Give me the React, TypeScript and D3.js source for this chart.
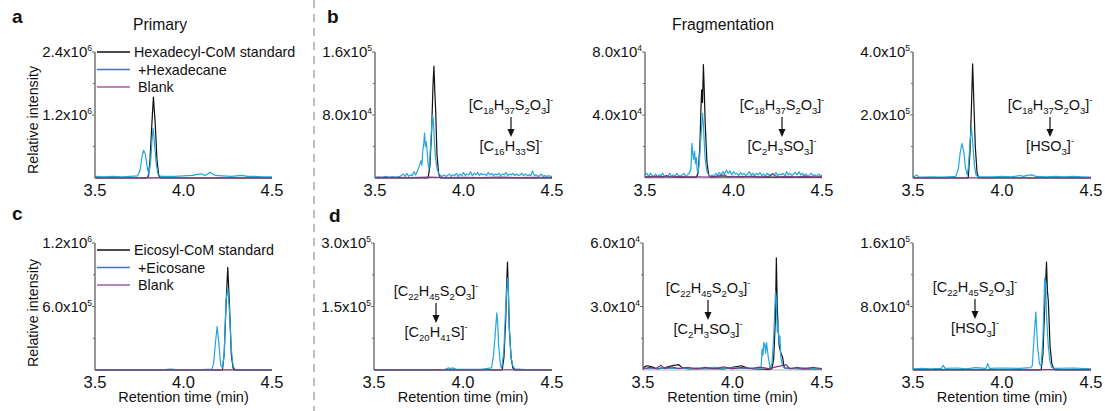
import React from "react";
import * as d3 from "d3";

type Pt = [number, number];
type Seg = [string, "n" | "sub" | "sup"];

// ---------- X axis ----------
const xTickValues = [3.5, 4.0, 4.5];
const xTickLabels = ["3.5", "4.0", "4.5"];

// ---------- Y ticks (mantissa, exponent) ----------
const aTicks: [number, string, string][] = [[1.2e6, "1.2", "6"], [2.4e6, "2.4", "6"]];
const b1Ticks: [number, string, string][] = [[8e4, "8.0", "4"], [1.6e5, "1.6", "5"]];
const b2Ticks: [number, string, string][] = [[4e4, "4.0", "4"], [8e4, "8.0", "4"]];
const b3Ticks: [number, string, string][] = [[2e5, "2.0", "5"], [4e5, "4.0", "5"]];
const cTicks: [number, string, string][] = [[6e5, "6.0", "5"], [1.2e6, "1.2", "6"]];
const d1Ticks: [number, string, string][] = [[1.5e5, "1.5", "5"], [3e5, "3.0", "5"]];
const d2Ticks: [number, string, string][] = [[3e4, "3.0", "4"], [6e4, "6.0", "4"]];
const d3Ticks: [number, string, string][] = [[8e4, "8.0", "4"], [1.6e5, "1.6", "5"]];

// ---------- Legends ----------
const legendA = ["Hexadecyl-CoM standard", "+Hexadecane", "Blank"];
const legendC = ["Eicosyl-CoM standard", "+Eicosane", "Blank"];

// ---------- Formulas ----------
const fC18: Seg[] = [["[C", "n"], ["18", "sub"], ["H", "n"], ["37", "sub"], ["S", "n"], ["2", "sub"], ["O", "n"], ["3", "sub"], ["]", "n"], ["-", "sup"]];
const fC22: Seg[] = [["[C", "n"], ["22", "sub"], ["H", "n"], ["45", "sub"], ["S", "n"], ["2", "sub"], ["O", "n"], ["3", "sub"], ["]", "n"], ["-", "sup"]];
const fC16S: Seg[] = [["[C", "n"], ["16", "sub"], ["H", "n"], ["33", "sub"], ["S]", "n"], ["-", "sup"]];
const fC20S: Seg[] = [["[C", "n"], ["20", "sub"], ["H", "n"], ["41", "sub"], ["S]", "n"], ["-", "sup"]];
const fC2H3: Seg[] = [["[C", "n"], ["2", "sub"], ["H", "n"], ["3", "sub"], ["SO", "n"], ["3", "sub"], ["]", "n"], ["-", "sup"]];
const fHSO3: Seg[] = [["[HSO", "n"], ["3", "sub"], ["]", "n"], ["-", "sup"]];

// ---------- Data: panel a (x1e6) ----------
const aBlack: Pt[] = [[3.5, 0], [3.79, 0], [3.8, 0.02], [3.81, 0.3], [3.82, 0.95], [3.83, 1.54], [3.84, 1.05], [3.85, 0.35], [3.86, 0.05], [3.87, 0], [4.5, 0]];
const aBlue: Pt[] = [[3.5, 0.03], [3.55, 0.02], [3.6, 0.03], [3.65, 0.02], [3.7, 0.03], [3.74, 0.04], [3.755, 0.15], [3.765, 0.4], [3.775, 0.53], [3.785, 0.45], [3.795, 0.2], [3.805, 0.06], [3.815, 0.35], [3.822, 0.72], [3.828, 0.95], [3.835, 0.7], [3.845, 0.3], [3.855, 0.08], [3.87, 0.03], [3.95, 0.03], [4.0, 0.04], [4.05, 0.05], [4.08, 0.07], [4.1, 0.08], [4.12, 0.05], [4.14, 0.08], [4.15, 0.11], [4.16, 0.08], [4.18, 0.05], [4.22, 0.04], [4.27, 0.03], [4.3, 0.04], [4.33, 0.05], [4.36, 0.03], [4.4, 0.03], [4.45, 0.02], [4.5, 0.02]];
const aBlank: Pt[] = [[3.5, 0.003], [3.8, 0.003], [4.1, 0.004], [4.5, 0.003]];

// ---------- panel b1 (x1e4) ----------
const b1Black: Pt[] = [[3.5, 0], [3.8, 0], [3.81, 1.5], [3.82, 6], [3.828, 12], [3.833, 14.2], [3.838, 11], [3.843, 8.5], [3.85, 3], [3.86, 0.5], [3.87, 0], [4.5, 0]];
const b1Blue: Pt[] = [[3.5, 0.1], [3.52, 0.15], [3.54, 0.1], [3.56, 0.2], [3.58, 0.1], [3.6, 0.15], [3.62, 0.1], [3.64, 0.2], [3.66, 0.5], [3.67, 0.2], [3.68, 0.6], [3.69, 0.2], [3.7, 0.4], [3.71, 0.3], [3.72, 0.8], [3.73, 0.4], [3.74, 0.9], [3.75, 1.5], [3.76, 2.2], [3.765, 1.6], [3.77, 3.5], [3.775, 4.2], [3.78, 5.7], [3.785, 4.0], [3.79, 4.6], [3.795, 3.2], [3.8, 1.8], [3.805, 1.2], [3.81, 2.5], [3.815, 4.5], [3.82, 6.5], [3.825, 8.0], [3.83, 7.2], [3.835, 5.0], [3.84, 3.0], [3.85, 1.2], [3.86, 0.6], [3.87, 0.3], [3.88, 0.2], [3.89, 0.4], [3.9, 0.2], [3.91, 0.3], [3.92, 0.5], [3.93, 0.2], [3.94, 0.4], [3.95, 0.3], [3.96, 0.6], [3.97, 0.2], [3.98, 0.5], [3.99, 0.3], [4.0, 0.7], [4.01, 0.3], [4.02, 0.5], [4.03, 0.4], [4.04, 0.8], [4.05, 0.3], [4.06, 0.6], [4.07, 0.4], [4.08, 0.7], [4.09, 0.3], [4.1, 0.6], [4.11, 0.4], [4.12, 0.5], [4.13, 0.3], [4.14, 0.7], [4.15, 0.4], [4.16, 0.6], [4.17, 0.3], [4.18, 0.5], [4.19, 0.4], [4.2, 0.6], [4.21, 0.3], [4.22, 0.5], [4.23, 0.4], [4.24, 0.7], [4.25, 0.3], [4.26, 0.5], [4.27, 0.4], [4.28, 0.6], [4.29, 0.3], [4.3, 0.5], [4.31, 0.3], [4.32, 0.4], [4.33, 0.6], [4.34, 0.3], [4.35, 0.5], [4.36, 0.3], [4.37, 0.4], [4.38, 0.3], [4.39, 0.9], [4.4, 0.3], [4.41, 0.4], [4.42, 0.2], [4.43, 0.3], [4.44, 0.5], [4.45, 0.2], [4.46, 0.3], [4.47, 0.2], [4.48, 0.3], [4.49, 0.2], [4.5, 0.2]];
const b1Blank: Pt[] = [[3.5, 0.05], [3.6, 0.08], [3.7, 0.05], [3.8, 0.1], [3.9, 0.05], [4.0, 0.08], [4.1, 0.05], [4.2, 0.1], [4.3, 0.05], [4.4, 0.08], [4.5, 0.05]];

// ---------- panel b2 (x1e4) ----------
const b2Black: Pt[] = [[3.5, 0.05], [3.6, 0.08], [3.7, 0.05], [3.79, 0.05], [3.8, 0.3], [3.81, 2], [3.815, 4], [3.82, 5.6], [3.825, 4.8], [3.83, 7.2], [3.835, 5.5], [3.84, 3.5], [3.85, 1], [3.86, 0.2], [3.87, 0.05], [4.0, 0.08], [4.2, 0.05], [4.5, 0.06]];
const b2Blue: Pt[] = [[3.5, 0.2], [3.51, 0.3], [3.52, 0.1], [3.53, 0.3], [3.54, 0.15], [3.55, 0.1], [3.56, 0.25], [3.57, 0.1], [3.58, 0.2], [3.59, 0.15], [3.6, 0.3], [3.61, 0.1], [3.62, 0.15], [3.63, 0.1], [3.64, 0.3], [3.65, 0.1], [3.66, 0.2], [3.67, 0.1], [3.68, 0.3], [3.69, 0.15], [3.7, 0.1], [3.71, 0.2], [3.72, 0.3], [3.73, 0.1], [3.74, 0.2], [3.75, 0.3], [3.76, 0.6], [3.765, 2.2], [3.77, 1.6], [3.775, 1.2], [3.78, 1.7], [3.785, 0.9], [3.79, 1.3], [3.795, 0.5], [3.8, 0.3], [3.805, 0.8], [3.81, 1.5], [3.815, 2.5], [3.82, 3.2], [3.825, 4.1], [3.83, 3.4], [3.835, 2.2], [3.84, 1.2], [3.85, 0.4], [3.86, 0.2], [3.87, 0.1], [3.88, 0.2], [3.89, 0.1], [3.9, 0.3], [3.91, 0.15], [3.92, 0.35], [3.93, 0.2], [3.94, 0.4], [3.95, 0.25], [3.96, 0.5], [3.97, 0.3], [3.98, 0.45], [3.99, 0.2], [4.0, 0.4], [4.01, 0.25], [4.02, 0.3], [4.03, 0.15], [4.04, 0.35], [4.05, 0.2], [4.06, 0.3], [4.07, 0.15], [4.08, 0.25], [4.09, 0.4], [4.1, 0.2], [4.11, 0.3], [4.12, 0.15], [4.13, 0.3], [4.14, 0.2], [4.15, 0.35], [4.16, 0.15], [4.17, 0.25], [4.18, 0.1], [4.19, 0.3], [4.2, 0.2], [4.21, 0.15], [4.22, 0.3], [4.23, 0.2], [4.24, 0.35], [4.25, 0.15], [4.26, 0.25], [4.27, 0.2], [4.28, 0.3], [4.29, 0.15], [4.3, 0.4], [4.31, 0.2], [4.32, 0.3], [4.33, 0.15], [4.34, 0.25], [4.35, 0.35], [4.36, 0.2], [4.37, 0.4], [4.38, 0.2], [4.39, 0.3], [4.4, 0.15], [4.41, 0.25], [4.42, 0.1], [4.43, 0.2], [4.44, 0.3], [4.45, 0.15], [4.46, 0.2], [4.47, 0.1], [4.48, 0.25], [4.49, 0.15], [4.5, 0.2]];
const b2Blank: Pt[] = [[3.5, 0.05], [3.55, 0.1], [3.6, 0.05], [3.62, 0.15], [3.65, 0.05], [3.7, 0.1], [3.75, 0.05], [3.8, 0.08], [3.85, 0.05], [3.9, 0.1], [3.95, 0.2], [3.97, 0.05], [4.0, 0.1], [4.05, 0.05], [4.1, 0.12], [4.15, 0.05], [4.2, 0.1], [4.22, 0.25], [4.25, 0.05], [4.3, 0.1], [4.35, 0.05], [4.4, 0.12], [4.45, 0.05], [4.5, 0.08]];

// ---------- panel b3 (x1e5) ----------
const b3Black: Pt[] = [[3.5, 0], [3.81, 0], [3.82, 0.8], [3.828, 2.2], [3.835, 3.62], [3.842, 2.4], [3.85, 1.0], [3.86, 0.15], [3.87, 0], [4.5, 0]];
const b3Blue: Pt[] = [[3.5, 0.03], [3.51, 0.05], [3.52, 0.1], [3.53, 0.04], [3.56, 0.03], [3.6, 0.04], [3.65, 0.03], [3.7, 0.04], [3.74, 0.05], [3.755, 0.3], [3.765, 0.8], [3.775, 1.1], [3.785, 0.85], [3.795, 0.3], [3.805, 0.1], [3.812, 0.4], [3.82, 1.1], [3.828, 1.62], [3.836, 1.1], [3.845, 0.4], [3.855, 0.08], [3.87, 0.04], [3.95, 0.04], [4.0, 0.05], [4.05, 0.04], [4.08, 0.06], [4.1, 0.08], [4.12, 0.05], [4.15, 0.09], [4.17, 0.1], [4.19, 0.05], [4.25, 0.04], [4.3, 0.05], [4.35, 0.04], [4.4, 0.05], [4.45, 0.04], [4.5, 0.03]];
const b3Blank: Pt[] = [[3.5, 0.005], [4.0, 0.008], [4.5, 0.005]];

// ---------- panel c (x1e5) ----------
const cBlack: Pt[] = [[3.5, 0], [4.22, 0], [4.23, 1.5], [4.24, 6], [4.25, 9.7], [4.26, 6], [4.27, 1.5], [4.28, 0.2], [4.29, 0], [4.5, 0]];
const cBlue: Pt[] = [[3.5, 0.03], [3.7, 0.03], [3.9, 0.04], [3.92, 0.08], [3.95, 0.05], [4.1, 0.03], [4.16, 0.08], [4.17, 0.6], [4.18, 2.5], [4.19, 4.1], [4.2, 2.5], [4.21, 0.5], [4.22, 0.2], [4.23, 1.5], [4.24, 6.5], [4.25, 7.75], [4.26, 5.5], [4.27, 2], [4.28, 0.4], [4.29, 0.1], [4.3, 0.04], [4.4, 0.03], [4.5, 0.03]];
const cBlank: Pt[] = [[3.5, 0.01], [4.0, 0.01], [4.5, 0.01]];

// ---------- panel d1 (x1e4) ----------
const d1Black: Pt[] = [[3.5, 0], [4.22, 0], [4.23, 3], [4.24, 12], [4.245, 20], [4.25, 25.5], [4.255, 18], [4.26, 10], [4.27, 3], [4.28, 0.5], [4.29, 0], [4.5, 0]];
const d1Blue: Pt[] = [[3.5, 0.1], [3.7, 0.1], [3.9, 0.15], [3.92, 0.5], [3.93, 0.3], [3.94, 0.5], [3.96, 0.2], [4.1, 0.15], [4.16, 0.5], [4.17, 3], [4.18, 8], [4.19, 13.5], [4.195, 11], [4.2, 6], [4.21, 1.5], [4.215, 0.5], [4.22, 1], [4.23, 5], [4.24, 15], [4.25, 21.7], [4.255, 19], [4.26, 10], [4.27, 3], [4.28, 1], [4.29, 0.3], [4.35, 0.1], [4.5, 0.1]];
const d1Blank: Pt[] = [[3.5, 0.05], [4.0, 0.06], [4.5, 0.05]];

// ---------- panel d2 (x1e3) ----------
const d2Black: Pt[] = [[3.5, 1], [3.52, 2], [3.55, 1.5], [3.58, 0.5], [3.62, 1], [3.66, 2], [3.7, 2.5], [3.72, 1], [3.76, 0.5], [3.85, 0.8], [3.95, 0.5], [4.05, 2], [4.08, 1], [4.12, 0.5], [4.2, 0.3], [4.22, 0.5], [4.23, 5], [4.24, 25], [4.245, 53], [4.25, 30], [4.255, 20], [4.26, 12], [4.27, 8], [4.28, 6], [4.285, 3], [4.29, 1], [4.32, 0.8], [4.4, 0.5], [4.5, 0.5]];
const d2Blue: Pt[] = [[3.5, 0.8], [3.55, 0.6], [3.6, 1], [3.65, 0.7], [3.7, 0.9], [3.75, 0.6], [3.8, 1], [3.85, 0.7], [3.9, 1.2], [3.95, 0.8], [4.0, 1], [4.05, 0.7], [4.1, 0.9], [4.15, 0.8], [4.16, 1], [4.165, 10], [4.17, 7], [4.175, 13], [4.18, 12], [4.185, 8], [4.19, 13], [4.2, 6], [4.21, 1], [4.22, 3], [4.23, 15], [4.24, 37], [4.245, 33], [4.25, 18], [4.255, 22], [4.26, 12], [4.265, 16], [4.27, 6], [4.28, 2], [4.29, 1], [4.35, 0.8], [4.4, 1], [4.45, 0.7], [4.5, 0.8]];
const d2Blank: Pt[] = [[3.5, 0.5], [3.54, 1.2], [3.57, 0.6], [3.6, 2.2], [3.62, 0.7], [3.66, 1.5], [3.7, 0.6], [3.75, 1.3], [3.8, 0.5], [3.85, 1.2], [3.9, 0.6], [3.95, 1.5], [4.0, 0.5], [4.05, 1.2], [4.1, 0.6], [4.15, 1.4], [4.2, 0.7], [4.3, 2.5], [4.32, 0.6], [4.36, 1.2], [4.4, 0.5], [4.45, 1.3], [4.5, 0.6]];

// ---------- panel d3 (x1e4) ----------
const d3Black: Pt[] = [[3.5, 0], [4.22, 0], [4.23, 2], [4.24, 8], [4.25, 13.6], [4.255, 10], [4.26, 8.8], [4.265, 6], [4.27, 3], [4.28, 0.8], [4.29, 0.2], [4.3, 0], [4.5, 0]];
const d3Blue: Pt[] = [[3.5, 0.15], [3.55, 0.2], [3.6, 0.15], [3.66, 0.2], [3.67, 0.6], [3.68, 0.2], [3.75, 0.25], [3.8, 0.15], [3.85, 0.3], [3.91, 0.2], [3.92, 0.8], [3.93, 0.2], [4.0, 0.25], [4.1, 0.2], [4.16, 0.3], [4.17, 0.5], [4.18, 4], [4.19, 7.3], [4.2, 3], [4.21, 0.8], [4.22, 0.5], [4.23, 4], [4.24, 11.6], [4.245, 11], [4.25, 7], [4.26, 3], [4.27, 1], [4.28, 0.3], [4.3, 0.2], [4.4, 0.25], [4.5, 0.15]];
const d3Blank: Pt[] = [[3.5, 0.05], [4.0, 0.06], [4.5, 0.05]];

// ---------- styles ----------
const FONT = "'Liberation Sans', Arial, Helvetica, sans-serif";
const C_BLACK = "#111111";
const C_BLUE = "#22a6de";
const C_BLANK = "#7e3487";
const C_LEG_BLUE = "#3d74c6";
const C_LEG_BLANK = "#a25ca6";
const C_AXIS = "#6b6b6b";

type PanelProps = {
  x0: number; x1: number; yTop: number; yBot: number;
  max: number; scale: number;
  ticks: [number, string, string][];
  black: Pt[]; blue: Pt[]; blank: Pt[];
  xTitle?: boolean;
};

function Formula({ x, y, segs }: { x: number; y: number; segs: Seg[] }) {
  let cur = 0;
  return (
    <text x={x} y={y} textAnchor="middle" fontFamily={FONT} fontSize={14.5} fill="#111">
      {segs.map(([t, k], i) => {
        const target = k === "sub" ? 4 : k === "sup" ? -7 : 0;
        const dy = target - cur;
        cur = target;
        return (
          <tspan key={i} dy={dy} fontSize={k === "n" ? 14.5 : k === "sub" ? 9.5 : 9}>{t}</tspan>
        );
      })}
    </text>
  );
}

function Annotation({ x, y, top, bottom }: { x: number; y: number; top: Seg[]; bottom: Seg[] }) {
  return (
    <g>
      <Formula x={x} y={y} segs={top} />
      <line x1={x} x2={x} y1={y + 7} y2={y + 22} stroke="#111" strokeWidth={1.2} />
      <path d={`M${x - 3.5},${y + 19} L${x + 3.5},${y + 19} L${x},${y + 27} Z`} fill="#111" />
      <Formula x={x} y={y + 41} segs={bottom} />
    </g>
  );
}

function Panel(p: PanelProps) {
  const x = d3.scaleLinear().domain([3.5, 4.5]).range([p.x0, p.x1]);
  const y = d3.scaleLinear().domain([0, p.max]).range([p.yBot, p.yTop]);
  const line = d3.line<Pt>().x((d) => x(d[0])).y((d) => y(d[1] * p.scale));
  const minor = [0.25, 0.75].map((f) => f * p.max);
  return (
    <g>
      <path d={line(p.black) || ""} fill="none" stroke={C_BLACK} strokeWidth={1.2} strokeLinejoin="round" />
      <path d={line(p.blue) || ""} fill="none" stroke={C_BLUE} strokeWidth={1.2} strokeLinejoin="round" />
      <path d={line(p.blank) || ""} fill="none" stroke={C_BLANK} strokeWidth={1.2} />
      <line x1={p.x0} x2={p.x0} y1={p.yTop} y2={p.yBot} stroke={C_AXIS} strokeWidth={1.4} />
      <line x1={p.x0} x2={p.x1} y1={p.yBot} y2={p.yBot} stroke={C_AXIS} strokeWidth={0.8} opacity={0.6} />
      {p.ticks.map(([v, m, e]) => (
        <g key={m + e}>
          <line x1={p.x0 - 3} x2={p.x0} y1={y(v)} y2={y(v)} stroke={C_AXIS} strokeWidth={1} />
          <text x={p.x0 - 3} y={y(v) + 5} textAnchor="end" fontFamily={FONT} fontSize={15} fill="#111">
            {m}x10<tspan dy={-6} fontSize={8.5}>{e}</tspan>
          </text>
        </g>
      ))}
      {minor.map((v) => (
        <line key={v} x1={p.x0 - 2} x2={p.x0} y1={y(v)} y2={y(v)} stroke={C_AXIS} strokeWidth={1} />
      ))}
      {xTickValues.map((v, i) => (
        <text key={v} x={x(v)} y={p.yBot + 17.5} textAnchor="middle" fontFamily={FONT} fontSize={16.5} fill="#111">
          {xTickLabels[i]}
        </text>
      ))}
      {p.xTitle && (
        <text x={(p.x0 + p.x1) / 2} y={p.yBot + 32} textAnchor="middle" fontFamily={FONT} fontSize={14.5} fill="#111">
          Retention time (min)
        </text>
      )}
    </g>
  );
}

function Legend({ x, y, labels }: { x: number; y: number; labels: string[] }) {
  const colors = [C_BLACK, C_LEG_BLUE, C_LEG_BLANK];
  const dx = [0, 4, 4];
  return (
    <g>
      {labels.map((l, i) => (
        <g key={l}>
          <line x1={x} x2={x + 33} y1={y + i * 17.5} y2={y + i * 17.5} stroke={colors[i]} strokeWidth={1.3} />
          <text x={x + 37 + dx[i]} y={y + i * 17.5 + 5} fontFamily={FONT} fontSize={14.3} fill="#111">{l}</text>
        </g>
      ))}
    </g>
  );
}

export default function App() {
  const cols = [[95, 272], [375, 552], [645, 822], [913, 1091]];
  const r1 = [52, 178];
  const r2 = [243, 370];
  return (
    <svg width={1105} height={411} style={{ position: "absolute", left: 0, top: 0, background: "#fff" }}>
      <rect width={1105} height={411} fill="#fff" />
      <line x1={314} x2={314} y1={0} y2={411} stroke="#9a9a9a" strokeWidth={1.3} strokeDasharray="8,6" />
      <text x={12} y={23} fontFamily={FONT} fontWeight="bold" fontSize={19} fill="#111">a</text>
      <text x={327} y={23} fontFamily={FONT} fontWeight="bold" fontSize={19} fill="#111">b</text>
      <text x={12} y={220} fontFamily={FONT} fontWeight="bold" fontSize={19} fill="#111">c</text>
      <text x={329} y={222} fontFamily={FONT} fontWeight="bold" fontSize={19} fill="#111">d</text>
      <text x={160} y={30} textAnchor="middle" fontFamily={FONT} fontSize={15.7} fill="#111">Primary</text>
      <text x={723} y={30} textAnchor="middle" fontFamily={FONT} fontSize={15.8} fill="#111">Fragmentation</text>
      <text transform="translate(38,120) rotate(-90)" textAnchor="middle" fontFamily={FONT} fontSize={14.3} fill="#111">Relative intensity</text>
      <text transform="translate(38,313) rotate(-90)" textAnchor="middle" fontFamily={FONT} fontSize={14.3} fill="#111">Relative intensity</text>

      <Panel x0={cols[0][0]} x1={cols[0][1]} yTop={r1[0]} yBot={r1[1]} max={2.4e6} scale={1e6} ticks={aTicks} black={aBlack} blue={aBlue} blank={aBlank} />
      <Panel x0={cols[1][0]} x1={cols[1][1]} yTop={r1[0]} yBot={r1[1]} max={1.6e5} scale={1e4} ticks={b1Ticks} black={b1Black} blue={b1Blue} blank={b1Blank} />
      <Panel x0={cols[2][0]} x1={cols[2][1]} yTop={r1[0]} yBot={r1[1]} max={8e4} scale={1e4} ticks={b2Ticks} black={b2Black} blue={b2Blue} blank={b2Blank} />
      <Panel x0={cols[3][0]} x1={cols[3][1]} yTop={r1[0]} yBot={r1[1]} max={4e5} scale={1e5} ticks={b3Ticks} black={b3Black} blue={b3Blue} blank={b3Blank} />
      <Panel x0={cols[0][0]} x1={cols[0][1]} yTop={r2[0]} yBot={r2[1]} max={1.2e6} scale={1e5} ticks={cTicks} black={cBlack} blue={cBlue} blank={cBlank} xTitle />
      <Panel x0={cols[1][0] - 1} x1={cols[1][1]} yTop={r2[0]} yBot={r2[1]} max={3e5} scale={1e4} ticks={d1Ticks} black={d1Black} blue={d1Blue} blank={d1Blank} xTitle />
      <Panel x0={cols[2][0] - 2} x1={cols[2][1]} yTop={r2[0]} yBot={r2[1]} max={6e4} scale={1e3} ticks={d2Ticks} black={d2Black} blue={d2Blue} blank={d2Blank} xTitle />
      <Panel x0={cols[3][0]} x1={cols[3][1]} yTop={r2[0]} yBot={r2[1]} max={1.6e5} scale={1e4} ticks={d3Ticks} black={d3Black} blue={d3Blue} blank={d3Blank} xTitle />

      <Legend x={97} y={52} labels={legendA} />
      <Legend x={97} y={250} labels={legendC} />

      <Annotation x={511} y={110} top={fC18} bottom={fC16S} />
      <Annotation x={782} y={110} top={fC18} bottom={fC2H3} />
      <Annotation x={1050} y={110} top={fC18} bottom={fHSO3} />
      <Annotation x={436} y={296} top={fC22} bottom={fC20S} />
      <Annotation x={708} y={293} top={fC22} bottom={fC2H3} />
      <Annotation x={975} y={292} top={fC22} bottom={fHSO3} />
    </svg>
  );
}
